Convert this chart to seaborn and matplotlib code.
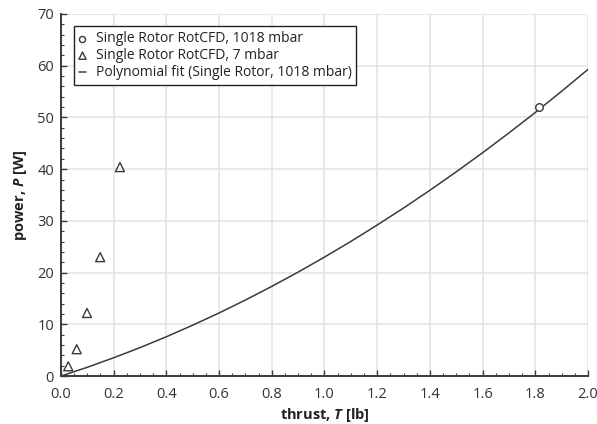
import numpy as np
import pandas as pd
import matplotlib
matplotlib.use("Agg")
import matplotlib.pyplot as plt
import seaborn as sns
from matplotlib.ticker import MultipleLocator

# Data
atm_thrust = [1.815]
atm_power = [52.1]

low_thrust = [0.028, 0.060, 0.099, 0.149, 0.224]
low_power = [1.9, 5.2, 12.2, 23.0, 40.4]

fit_thrust = [0.0, 0.1, 0.2, 0.3, 0.4, 0.5, 0.6, 0.7, 0.8, 0.9, 1.0,
              1.1, 1.2, 1.3, 1.4, 1.5, 1.6, 1.7, 1.8, 1.9, 2.0]
fit_power = [0.0, 1.70, 3.54, 5.50, 7.60, 9.84, 12.20, 14.70, 17.34, 20.10, 23.0,
             26.03, 29.20, 32.49, 35.92, 39.49, 43.18, 47.01, 50.97, 55.07, 59.3]

labels = ["Single Rotor RotCFD, 1018 mbar",
          "Single Rotor RotCFD, 7 mbar",
          "Polynomial fit (Single Rotor, 1018 mbar)"]

sns.set_style("whitegrid")
plt.rcParams["font.family"] = ["Open Sans", "DejaVu Sans"]
plt.rcParams["mathtext.fontset"] = "custom"
plt.rcParams["mathtext.bfit"] = "Open Sans:bold:italic"
plt.rcParams["mathtext.it"] = "Open Sans:italic"
plt.rcParams["mathtext.rm"] = "Open Sans"
plt.rcParams["mathtext.bf"] = "Open Sans:bold"

dark = "#3a3a3a"

fig = plt.figure(figsize=(5.97, 4.24), dpi=100)
ax = fig.add_axes([0.102, 0.113, 0.883, 0.854])

df_fit = pd.DataFrame({"T": fit_thrust, "P": fit_power})
df_atm = pd.DataFrame({"T": atm_thrust, "P": atm_power})
df_low = pd.DataFrame({"T": low_thrust, "P": low_power})

sns.lineplot(data=df_fit, x="T", y="P", ax=ax, color=dark, linewidth=1.1,
             label=labels[2], zorder=2)
sns.scatterplot(data=df_atm, x="T", y="P", ax=ax, marker="o", s=30,
                facecolor="white", edgecolor=dark, linewidth=1.0,
                label=labels[0], zorder=3)
sns.scatterplot(data=df_low, x="T", y="P", ax=ax, marker="^", s=42,
                facecolor="none", edgecolor=dark, linewidth=1.0,
                label=labels[1], zorder=3)

ax.set_xlim(0, 2.0)
ax.set_ylim(0, 70)
ax.xaxis.set_major_locator(MultipleLocator(0.2))
ax.xaxis.set_minor_locator(MultipleLocator(0.05))
ax.yaxis.set_major_locator(MultipleLocator(10))
ax.yaxis.set_minor_locator(MultipleLocator(2))
ax.set_xticks(np.arange(0, 2.01, 0.2))
ax.set_xticklabels([f"{v:.1f}" for v in np.arange(0, 2.01, 0.2)])

ax.grid(True, which="major", color="#e3e3e3", linewidth=1.1)
ax.grid(False, which="minor")
for s in ["top", "right"]:
    ax.spines[s].set_visible(False)
for s in ["left", "bottom"]:
    ax.spines[s].set_visible(True)
    ax.spines[s].set_color(dark)
    ax.spines[s].set_linewidth(1.4)

ax.tick_params(which="both", direction="in", colors=dark, labelsize=10.5,
               bottom=True, left=True)
ax.tick_params(which="major", length=4, width=1.0)
ax.tick_params(which="minor", length=2.5, width=0.8)
ax.tick_params(axis="x", pad=8)
ax.tick_params(axis="y", pad=5)
for lbl in ax.get_xticklabels() + ax.get_yticklabels():
    lbl.set_color("#333333")

ax.set_xlabel(r"thrust, $\mathbfit{T}$ [lb]", fontsize=10.5, fontweight="bold",
              color="#222222", labelpad=3)
ax.set_ylabel(r"power, $\mathbfit{P}$ [W]", fontsize=10.5, fontweight="bold",
              color="#222222", labelpad=6)

handles, lbls = ax.get_legend_handles_labels()
order = [lbls.index(l) for l in labels]
leg = ax.legend([handles[i] for i in order], [lbls[i] for i in order],
                loc="upper left", bbox_to_anchor=(0.012, 0.985),
                frameon=True, fancybox=False, edgecolor="#222222",
                fontsize=10, handlelength=0.5, handletextpad=0.7,
                borderpad=0.35, labelspacing=0.15, framealpha=1,
                markerscale=0.8)
leg.get_frame().set_linewidth(1.0)
for t in leg.get_texts():
    t.set_color("#222222")

fig.savefig("out.png", dpi=100)
